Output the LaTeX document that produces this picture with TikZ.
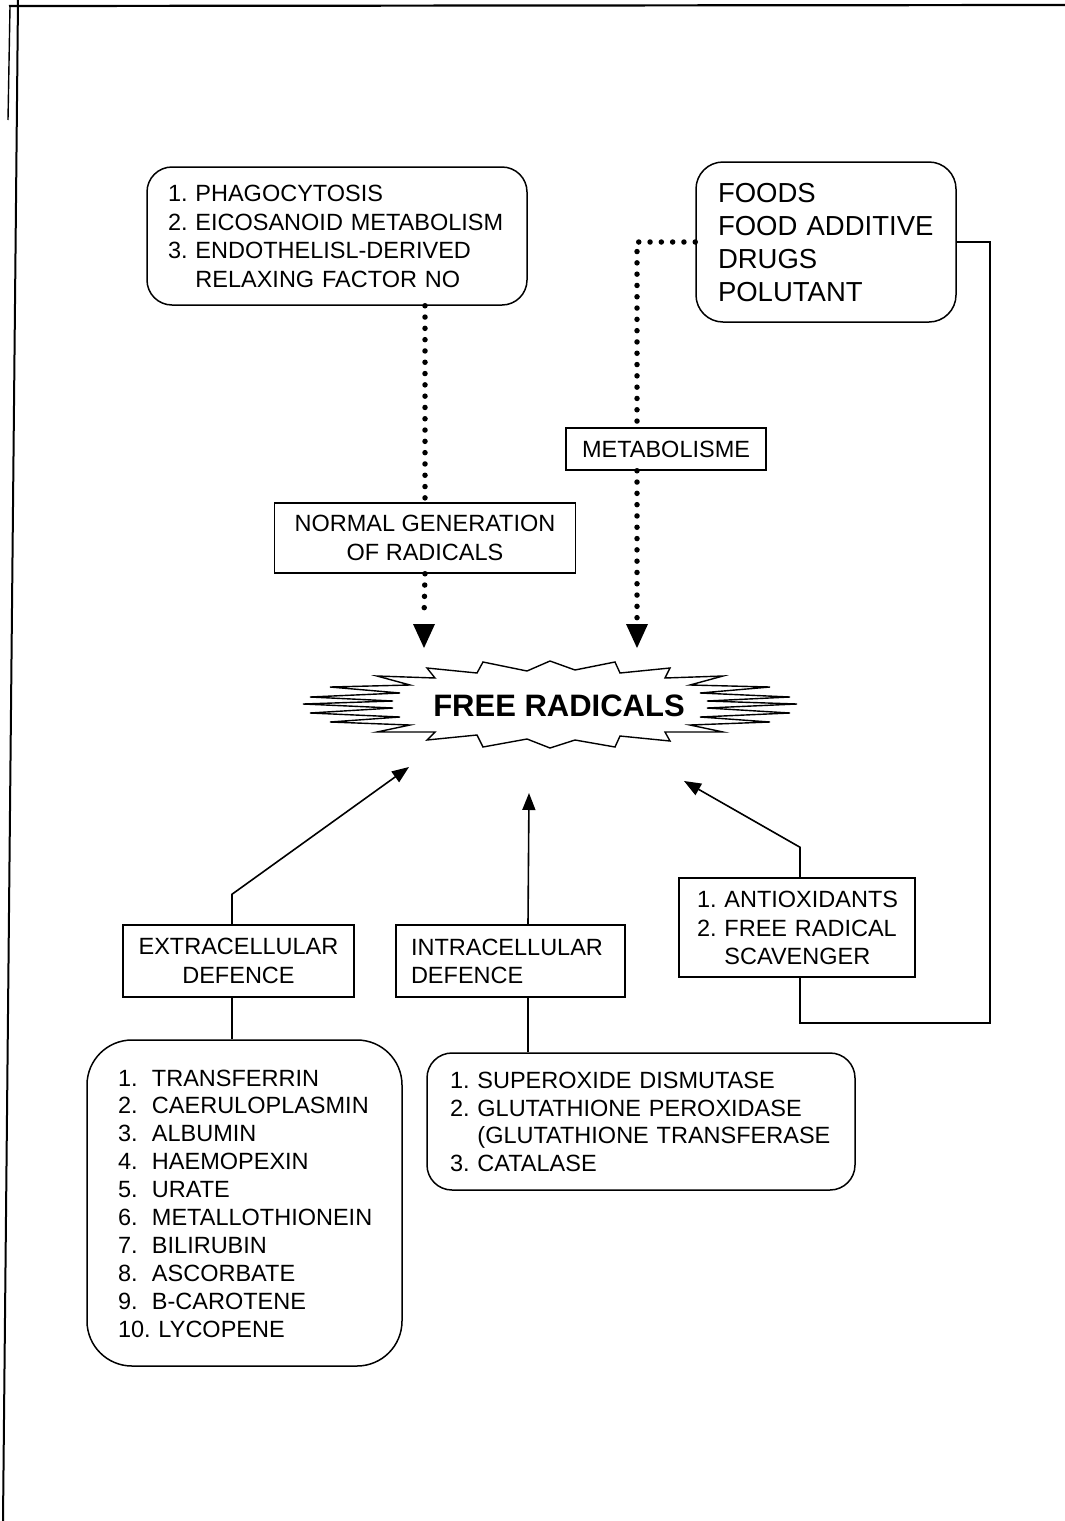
\documentclass[tikz,border=0pt]{standalone}
\usepackage{fontspec}
\setmainfont{Liberation Sans}
\usetikzlibrary{arrows.meta,calc}
\frenchspacing
% left-aligned block of lines that never wraps, capitals centred on the line box
\newcommand{\boxlines}[1]{\raisebox{-3pt}[\height][\depth]{\begin{tabular}{@{}l@{}}#1\end{tabular}}}
\begin{document}
\begin{tikzpicture}[x=1pt,y=-1pt,
  txt/.style={font=\fontsize{23.5}{28.5}\selectfont},
  sqbox/.style={txt,draw,line width=1.5pt,inner ysep=0pt},
  rbox/.style={sqbox,rounded corners=#1},
  dots/.style={line width=5.5pt,line cap=round,dash pattern=on 0pt off 11.3pt},
  solidarrow/.style={line width=1.6pt,-{Triangle[length=17pt,width=13pt]}},
  link/.style={line width=1.5pt},
  headtri/.style={fill=black}]
\useasboundingbox (0,0) rectangle (1065,1521);

% page frame remnants
\draw[line width=2.2pt] (9,6) -- (1065,5);
\draw[line width=2pt] (18,0) -- (3,1521);
\draw[line width=1.4pt] (10,7) -- (8,120);

% sources of radicals
\node[rbox=25pt,inner xsep=21pt,text width=338pt,minimum height=138pt,align=left]
  (src) at (337,236)
  {\boxlines{1. PHAGOCYTOSIS\\2. EICOSANOID METABOLISM\\3. ENDOTHELISL-DERIVED\\\hphantom{3.}\ RELAXING FACTOR NO}};
\node[rbox=27pt,font=\fontsize{27.5}{33}\selectfont,inner xsep=22pt,inner ysep=0pt,text width=216pt,
  minimum height=160pt,align=left,draw,line width=1.5pt]
  (food) at (826,242) {\boxlines{FOODS\\FOOD ADDITIVE\\DRUGS\\POLUTANT}};

\node[sqbox,minimum width=301pt,minimum height=70pt,align=center] (gen) at (425,538)
  {NORMAL GENERATION\\OF RADICALS};
\node[sqbox,minimum width=200pt,minimum height=42pt] (met) at (666,449) {METABOLISME};

% free radicals burst
\node[font=\fontsize{31}{36}\selectfont\bfseries] (fr) at (559,706) {FREE RADICALS};
\draw[line width=1.4pt,line join=miter,shift={(550,705)}]
  (-115,-27) -- (-123,-37) -- (-73,-32) -- (-67,-43) -- (-23,-34) -- (0,-44) -- (25,-35)
  -- (65,-43) -- (70,-32) -- (120,-37) -- (115,-27)
  -- (173,-29) -- (140,-20) -- (220,-18) -- (150,-12) -- (240,-8) -- (157,-4) -- (247,-1)
  -- (157,3) -- (240,8) -- (150,12) -- (220,17) -- (140,20) -- (173,27) -- (115,27)
  -- (120,36) -- (70,31) -- (65,42) -- (25,35) -- (0,43) -- (-23,34) -- (-67,42) -- (-73,30)
  -- (-123,35) -- (-115,27)
  -- (-173,27) -- (-140,20) -- (-220,17) -- (-150,12) -- (-240,8) -- (-157,3) -- (-247,-1)
  -- (-157,-4) -- (-240,-8) -- (-150,-12) -- (-220,-18) -- (-140,-20) -- (-173,-29) -- cycle;

% defence boxes
\node[sqbox,minimum width=231pt,minimum height=72pt,align=center] (ext) at (238.5,961)
  {EXTRACELLULAR\\DEFENCE};
\node[sqbox,inner xsep=15pt,text width=199pt,minimum height=72pt,align=left] (int) at (510.5,961)
  {\boxlines{INTRACELLULAR\\DEFENCE}};
\node[sqbox,inner xsep=18pt,text width=200pt,minimum height=99pt,align=left] (aox) at (797,927.5)
  {\boxlines{1. ANTIOXIDANTS\\2. FREE RADICAL\\\hphantom{2.}\ SCAVENGER}};

\node[rbox=45pt,inner xsep=31pt,text width=253pt,minimum height=326pt,align=left,
  font=\fontsize{23.5}{27.9}\selectfont] (exlist) at (244.5,1203)
  {\boxlines{\makebox[34pt][l]{1.}TRANSFERRIN\\\makebox[34pt][l]{2.}CAERULOPLASMIN\\
   \makebox[34pt][l]{3.}ALBUMIN\\\makebox[34pt][l]{4.}HAEMOPEXIN\\
   \makebox[34pt][l]{5.}URATE\\\makebox[34pt][l]{6.}METALLOTHIONEIN\\
   \makebox[34pt][l]{7.}BILIRUBIN\\\makebox[34pt][l]{8.}ASCORBATE\\
   \makebox[34pt][l]{9.}B-CAROTENE\\10. LYCOPENE}};
\node[rbox=25pt,inner xsep=23pt,text width=382pt,minimum height=137pt,align=left,
  font=\fontsize{23.5}{27.7}\selectfont] (inlist) at (641,1121.5)
  {\boxlines{1. SUPEROXIDE DISMUTASE\\2. GLUTATHIONE PEROXIDASE\\\hphantom{2.}\ (GLUTATHIONE TRANSFERASE\\3. CATALASE}};

% anchor points of the connectors
\coordinate (metx) at (637,242);
\coordinate (tipL) at (424,648);
\coordinate (tipR) at (637,648);
\coordinate (exx) at (232,0);
\coordinate (inx) at (528,0);
\coordinate (aoxx) at (800,0);
\coordinate (tipA) at (409,767);
\coordinate (tipB) at (529,793);
\coordinate (tipC) at (684,781);
\coordinate (loop) at (990,1023);

% dotted generation paths
\draw[dots] (src.south -| gen.north) -- (gen.north);
\draw[dots] (gen.south) -- ($(tipL)+(0,-30)$);
\fill[headtri] (tipL) -- ++(-11,-24) -- ++(22,0) -- cycle;
\draw[dots] (food.west) -- (metx) -- (metx |- met.north);
\draw[dots] (metx |- met.south) -- ($(tipR)+(0,-30)$);
\fill[headtri] (tipR) -- ++(-11,-24) -- ++(22,0) -- cycle;

% defence arrows
\draw[solidarrow] (ext.north -| exx) -- ++(0,-30) -- (tipA);
\draw[solidarrow] (int.north -| inx) -- (tipB);
\draw[solidarrow] (aox.north -| aoxx) -- ++(0,-30) -- (tipC);

% list links and feedback loop
\draw[link] (exlist.north -| exx) -- (ext.south -| exx);
\draw[link] (inlist.north -| inx) -- (int.south -| inx);
\draw[link] (aox.south -| aoxx) |- (loop) |- (food.east);
\end{tikzpicture}
\end{document}
